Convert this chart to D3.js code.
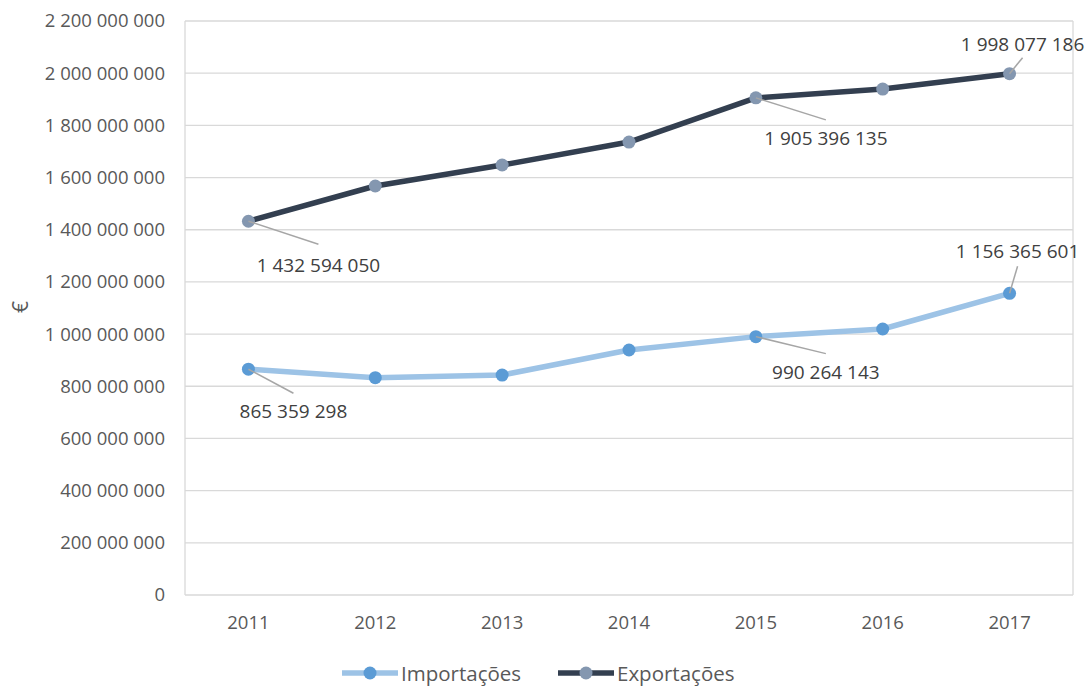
<!DOCTYPE html>
<html>
<head>
<meta charset="utf-8">
<script src="https://cdn.jsdelivr.net/npm/d3@7"></script>
<style>
  html, body { margin: 0; padding: 0; background: #fff; }
  svg { display: block; font-family: "Open Sans", "Noto Sans", sans-serif; }
</style>
</head>
<body>
<svg id="chart" width="1087" height="686"></svg>
<script>
// Years on the category axis
const years = ["2011", "2012", "2013", "2014", "2015", "2016", "2017"];
// Annual values in euros
const importacoes = [865359298, 832900000, 843000000, 939000000, 990264143, 1019500000, 1156365601];
const exportacoes = [1432594050, 1567600000, 1648000000, 1736000000, 1905396135, 1939000000, 1998077186];
// Value-axis ticks
const yTicks = [0, 200e6, 400e6, 600e6, 800e6, 1000e6, 1200e6, 1400e6, 1600e6, 1800e6, 2000e6, 2200e6];
const seriesNames = ["Importações", "Exportações"];
// Which points carry a data label
const labelledIndex = [0, 4, 6];

(function draw() {
const svg = d3.select("#chart");
const plotLeft = 185, plotRight = 1073, plotTop = 21, plotBottom = 595;

const x = d3.scaleBand().domain(years).range([plotLeft, plotRight]);
const y = d3.scaleLinear().domain([0, 2200e6]).range([plotBottom, plotTop]);
const fmt = v => d3.format(",")(v).replace(/,/g, " ");

const textColor = "#595959";
const gridColor = "#D9D9D9";

// Gridlines
svg.append("g")
  .selectAll("line")
  .data(yTicks)
  .join("line")
  .attr("x1", plotLeft).attr("x2", plotRight)
  .attr("y1", d => y(d)).attr("y2", d => y(d))
  .attr("stroke", gridColor).attr("stroke-width", 1.3);

// Plot frame sides
svg.append("line").attr("x1", plotLeft).attr("x2", plotLeft).attr("y1", plotTop).attr("y2", plotBottom)
  .attr("stroke", gridColor).attr("stroke-width", 1.3);
svg.append("line").attr("x1", plotRight).attr("x2", plotRight).attr("y1", plotTop).attr("y2", plotBottom)
  .attr("stroke", gridColor).attr("stroke-width", 1.3);

// Y axis labels
const yAxis = d3.axisLeft(y).tickValues(yTicks).tickFormat(fmt).tickSize(0).tickPadding(20);
const gy = svg.append("g").attr("transform", `translate(${plotLeft},0)`).call(yAxis);
gy.select(".domain").remove();
gy.selectAll("text").attr("fill", textColor).style("font-size", "18.5px")
  .style("font-family", "'Open Sans', sans-serif");

// X axis labels
const xAxis = d3.axisBottom(x).tickSize(0).tickPadding(21);
const gx = svg.append("g").attr("transform", `translate(0,${plotBottom})`).call(xAxis);
gx.select(".domain").remove();
gx.selectAll("text").attr("fill", textColor).style("font-size", "18.5px")
  .style("font-family", "'Open Sans', sans-serif");

// Axis title
svg.append("text")
  .attr("transform", `translate(20,307) rotate(-90)`)
  .attr("text-anchor", "middle")
  .attr("dominant-baseline", "central")
  .attr("fill", textColor)
  .style("font-size", "21px")
  .text("€");

const cx = i => x(years[i]) + x.bandwidth() / 2;

const series = [
  { name: seriesNames[0], values: importacoes, line: "#9DC3E6", marker: "#5B9BD5",
    // leader end offset and label offset for labelled points
    labels: [[45, 24, 42], [70, 17, 35], [8, -27, -42]] },
  { name: seriesNames[1], values: exportacoes, line: "#333F50", marker: "#8497B0",
    labels: [[70, 23, 44], [70, 22, 40], [13, -16, -30]] }
];

const lineGen = d3.line().x((d, i) => cx(i)).y(d => y(d));

series.forEach(s => {
  const g = svg.append("g");
  g.append("path")
    .datum(s.values)
    .attr("d", lineGen)
    .attr("fill", "none")
    .attr("stroke", s.line)
    .attr("stroke-width", 5.5)
    .attr("stroke-linejoin", "round")
    .attr("stroke-linecap", "round");
  g.selectAll("circle")
    .data(s.values)
    .join("circle")
    .attr("cx", (d, i) => cx(i))
    .attr("cy", d => y(d))
    .attr("r", 6.5)
    .attr("fill", s.marker);

  // Data labels with leader lines
  labelledIndex.forEach((idx, k) => {
    const [dx, dy, ty] = s.labels[k];
    const px = cx(idx), py = y(s.values[idx]);
    g.append("line")
      .attr("x1", px).attr("y1", py)
      .attr("x2", px + dx).attr("y2", py + dy)
      .attr("stroke", "#A6A6A6").attr("stroke-width", 1.5);
    g.append("text")
      .attr("x", px + dx).attr("y", py + ty)
      .attr("text-anchor", "middle")
      .attr("dominant-baseline", "central")
      .attr("fill", "#404040")
      .style("font-size", "19px")
      .text(fmt(s.values[idx]));
  });
});

// Legend
const legend = svg.append("g");
const legendItems = [
  { name: seriesNames[0], line: series[0].line, marker: series[0].marker, x: 342 },
  { name: seriesNames[1], line: series[1].line, marker: series[1].marker, x: 558 }
];
legendItems.forEach(it => {
  const ly = 673;
  legend.append("line")
    .attr("x1", it.x).attr("x2", it.x + 56)
    .attr("y1", ly).attr("y2", ly)
    .attr("stroke", it.line).attr("stroke-width", 5.5);
  legend.append("circle")
    .attr("cx", it.x + 28).attr("cy", ly).attr("r", 6.5).attr("fill", it.marker);
  legend.append("text")
    .attr("x", it.x + 59).attr("y", ly)
    .attr("dominant-baseline", "central")
    .attr("fill", textColor)
    .style("font-size", "20.5px")
    .text(it.name);
});
})();
</script>
</body>
</html>
